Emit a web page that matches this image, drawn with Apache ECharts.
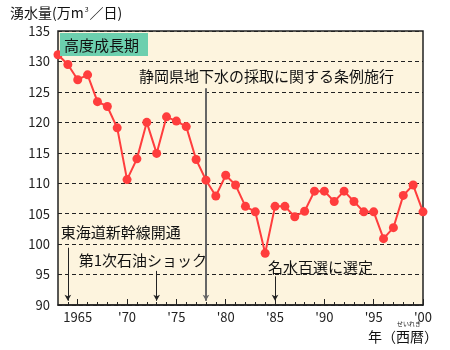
<!DOCTYPE html>
<html>
<head>
<meta charset="utf-8">
<script src="https://cdn.jsdelivr.net/npm/echarts@6/dist/echarts.min.js"></script>
<style>
  html, body { margin: 0; padding: 0; background: #ffffff; }
  #chart { width: 450px; height: 350px; }
</style>
</head>
<body>
<div id="chart"></div>
<script>
// 湧水量の推移（万m³/日）
const years = [1963, 1964, 1965, 1966, 1967, 1968, 1969, 1970, 1971, 1972,
  1973, 1974, 1975, 1976, 1977, 1978, 1979, 1980, 1981, 1982,
  1983, 1984, 1985, 1986, 1987, 1988, 1989, 1990, 1991, 1992,
  1993, 1994, 1995, 1996, 1997, 1998, 1999, 2000];
const flow = [131.1, 129.5, 127.0, 127.8, 123.4, 122.6, 119.1, 110.6, 114.0, 120.0,
  114.9, 120.9, 120.2, 119.3, 113.9, 110.5, 107.9, 111.3, 109.7, 106.2,
  105.3, 98.5, 106.2, 106.2, 104.5, 105.4, 108.7, 108.7, 107.0, 108.7,
  107.0, 105.3, 105.3, 100.9, 102.7, 108.0, 109.7, 105.3];
const yearLabels = [1965, 1970, 1975, 1980, 1985, 1990, 1995, 2000];
const minorYears = years.slice(1);

// 出来事（年・文字・矢印の始点）
const events = [
  { year: 1964, text: '東海道新幹線開通', from: 99.4 },
  { year: 1973, text: '第1次石油ショック', from: 95.6 },
  { year: 1985, text: '名水百選に選定', from: 94.7 }
];
const ordinance = { year: 1978, text: '静岡県地下水の採取に関する条例施行', from: 125.6 };
const boomLabel = '高度成長期';

const FONT = '"Noto Sans CJK JP", sans-serif';
const chart = echarts.init(document.getElementById('chart'));

const eventLines = events.map(e => [
  { coord: [e.year, e.from] },
  { coord: [e.year, 90.7] }
]);

chart.setOption({
  animation: false,
  textStyle: { fontFamily: FONT },
  grid: { left: 58, right: 27, top: 31, bottom: 45, show: true,
          backgroundColor: '#fdf4de', borderColor: '#222', borderWidth: 1.5 },
  xAxis: [{
    type: 'value', min: 1963, max: 2000,
    axisLine: { show: true, onZero: false, lineStyle: { color: '#222', width: 1.5 } },
    axisTick: { show: true, inside: true, length: 6, customValues: yearLabels,
                lineStyle: { color: '#222', width: 1 } },
    axisLabel: { customValues: yearLabels, color: '#222', fontSize: 13, margin: 6,
                 fontFamily: FONT,
                 formatter: v => v === 1965 ? '1965' : "'" + String(v).slice(2) },
    splitLine: { show: false }
  }, {
    type: 'value', min: 1963, max: 2000, position: 'bottom',
    axisLine: { show: false },
    axisTick: { show: true, inside: true, length: 3, customValues: minorYears,
                lineStyle: { color: '#222', width: 1 } },
    axisLabel: { show: false },
    splitLine: { show: false }
  }],
  yAxis: {
    type: 'value', min: 90, max: 135, interval: 5,
    axisLine: { show: false },
    axisTick: { show: false },
    axisLabel: { color: '#222', fontSize: 13, margin: 8, fontFamily: FONT,
                 showMinLabel: true, showMaxLabel: true },
    splitLine: { show: true, lineStyle: { color: '#222', type: [4, 3], width: 1 } }
  },
  series: [{
    type: 'line',
    data: years.map((y, i) => [y, flow[i]]),
    symbol: 'circle', symbolSize: 9,
    itemStyle: { color: '#ff3d3d' },
    lineStyle: { color: '#ff3d3d', width: 2 },
    z: 5,
    markLine: {
      silent: true, symbol: ['none', 'arrow'], symbolSize: [5, 6],
      label: { show: false },
      lineStyle: { color: '#222', width: 1, type: 'solid' },
      data: eventLines.concat([[
        { coord: [ordinance.year, ordinance.from], lineStyle: { color: '#666', width: 2 } },
        { coord: [ordinance.year, 90.7] }
      ]])
    }
  }],
  graphic: []
});

// 注記の文字をデータ座標に合わせて配置
function px(x, y) { return chart.convertToPixel({ xAxisIndex: 0, yAxisIndex: 0 }, [x, y]); }
const TXT = '15px ' + FONT;
const g = [];
const p0 = px(1963, 135);
g.push({ type: 'rect', shape: { x: p0[0] + 2, y: p0[1] + 2, width: 88, height: 23 },
         style: { fill: '#6ccfae' }, z: 10 });
g.push({ type: 'text', style: { text: boomLabel, x: p0[0] + 6, y: p0[1] + 14,
         verticalAlign: 'middle', font: TXT, fill: '#111' }, z: 11 });
const po = px(ordinance.year, 126.4);
g.push({ type: 'text', style: { text: ordinance.text, x: po[0] - 67, y: po[1],
         verticalAlign: 'bottom', font: TXT, fill: '#111' }, z: 11 });
const pe1 = px(events[0].year, 100.7);
g.push({ type: 'text', style: { text: events[0].text, x: pe1[0] - 7, y: pe1[1],
         verticalAlign: 'bottom', font: TXT, fill: '#111' }, z: 11 });
const pe2 = px(events[1].year, 96.1);
g.push({ type: 'text', style: { text: events[1].text, x: pe2[0] - 78, y: pe2[1],
         verticalAlign: 'bottom', font: TXT, fill: '#111' }, z: 11 });
const pe3 = px(events[2].year, 94.9);
g.push({ type: 'text', style: { text: events[2].text, x: pe3[0] - 7, y: pe3[1],
         verticalAlign: 'bottom', font: TXT, fill: '#111' }, z: 11 });
// 軸の見出し
g.push({ type: 'text', style: { text: '{a|湧水量(万m}{s|3}{a|／日)}', x: 10, y: 6,
         rich: { a: { font: '14px ' + FONT, fill: '#111', verticalAlign: 'bottom' },
                 s: { font: '7px ' + FONT, fill: '#111', verticalAlign: 'top', padding: [0, 1, 7, 1] } } } });
g.push({ type: 'text', style: { text: '年（西暦）', x: 368, y: 330,
         font: '14px ' + FONT, fill: '#111' } });
g.push({ type: 'text', style: { text: 'せいれき', x: 397, y: 321,
         font: '6px ' + FONT, fill: '#111' } });
chart.setOption({ graphic: g });
</script>
</body>
</html>
